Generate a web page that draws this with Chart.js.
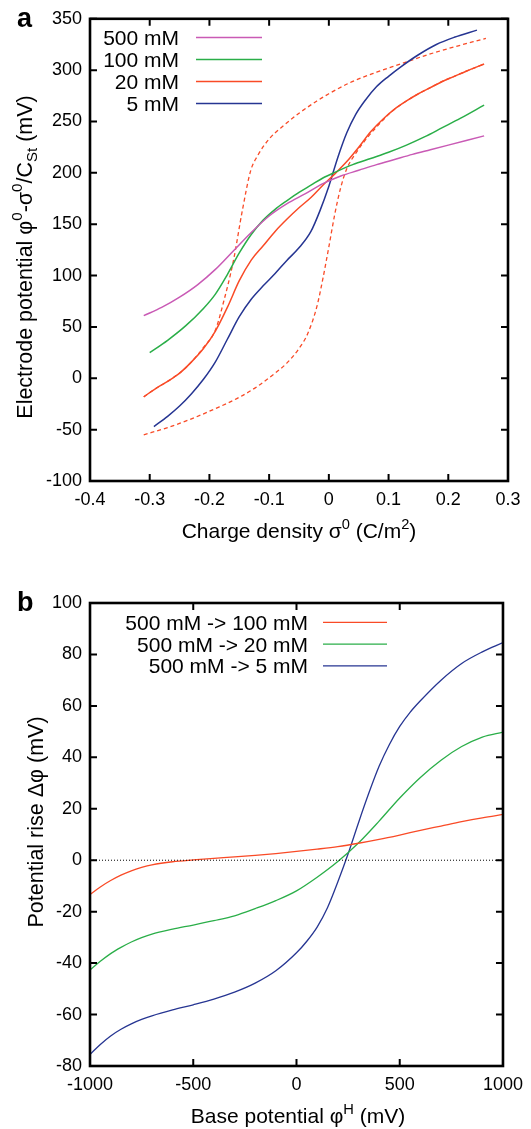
<!DOCTYPE html>
<html>
<head>
<meta charset="utf-8">
<script src="https://cdn.jsdelivr.net/npm/chart.js@4.4.1/dist/chart.umd.min.js"></script>
<style>
    html, body { margin: 0; padding: 0; background: #fff; }
    canvas { position: absolute; left: 0; }
    #chartA { top: 0; }
    #chartB { top: 565px; }
</style>
</head>
<body>
<canvas id="chartA" width="531" height="565"></canvas>
<canvas id="chartB" width="531" height="564"></canvas>
<script>
// Panel a: charge density (C/m2) -> electrode potential (mV)
const sigma500 = [-0.31, -0.28, -0.25, -0.22, -0.19, -0.16, -0.13, -0.10, -0.07, -0.04, -0.01, 0.02, 0.05, 0.08, 0.11, 0.14, 0.17, 0.20, 0.23, 0.26];
const phi500 = [61, 69, 79, 91, 106, 124, 142, 158, 170, 179.5, 189.5, 197, 202.5, 208, 213, 218, 222.5, 227, 231.5, 236];

const sigma100 = [-0.30, -0.27, -0.24, -0.21, -0.19, -0.17, -0.15, -0.13, -0.11, -0.09, -0.07, -0.05, -0.03, -0.01, 0.01, 0.04, 0.07, 0.10, 0.13, 0.16, 0.19, 0.22, 0.26];
const phi100 = [25, 37, 51, 68, 82, 101, 122, 140, 154, 164.5, 173, 181, 188, 195, 200.5, 208, 214, 220, 227, 235, 244, 253, 266];

const sigma20 = [-0.31, -0.29, -0.27, -0.25, -0.23, -0.21, -0.19, -0.17, -0.15, -0.13, -0.11, -0.09, -0.07, -0.05, -0.03, -0.01, 0.01, 0.03, 0.05, 0.07, 0.09, 0.11, 0.13, 0.15, 0.17, 0.19, 0.21, 0.23, 0.26];
const phi20 = [-18, -10, -3, 5, 16, 29, 46, 69, 95, 115, 129, 143, 155, 166, 176, 188, 199, 211, 225, 240, 252, 262, 270, 277, 283, 289, 294, 299, 306];

const sigma5 = [-0.293, -0.27, -0.25, -0.23, -0.21, -0.19, -0.17, -0.15, -0.13, -0.11, -0.09, -0.07, -0.05, -0.03, -0.015, 0.0, 0.015, 0.03, 0.045, 0.06, 0.08, 0.10, 0.12, 0.15, 0.18, 0.21, 0.248];
const phi5 = [-47, -37, -27, -15, -1, 16, 38, 60, 77, 90, 102, 115, 127, 143, 163, 187, 215, 239, 257, 270, 284, 294, 303, 315, 325, 332, 339];

// dashed 20 mM branches
const sigmaUp = [-0.31, -0.29, -0.27, -0.25, -0.23, -0.21, -0.19, -0.176, -0.16, -0.145, -0.131, -0.12, -0.10, -0.08, -0.05, -0.02, 0.0, 0.036, 0.08, 0.12, 0.16, 0.20, 0.263];
const phiUp = [-18, -10, -3, 5, 16, 30, 47, 75, 114, 163, 202, 216, 233, 244, 258, 270, 277, 288, 298, 306, 314, 321, 331];
const sigmaDown = [-0.31, -0.27, -0.23, -0.19, -0.15, -0.12, -0.09, -0.07, -0.05, -0.035, -0.02, -0.01, 0.0, 0.01, 0.02, 0.03, 0.045, 0.064, 0.09, 0.11, 0.13, 0.15, 0.17, 0.19, 0.21, 0.23, 0.26];
const phiDown = [-55, -48, -39.5, -29.5, -18.5, -8, 5, 15, 29, 44, 70, 97, 128, 160, 186, 204, 219, 234, 251, 262, 270, 277, 283, 289, 294, 299, 306];

const labelsA = ['500 mM', '100 mM', '20 mM', '5 mM'];
const ticksAx = [-0.4, 0.3, 0.1];   // min, max, step
const ticksAy = [-100, 350, 50];

// Panel b: base potential (mV) -> potential rise (mV)
const baseH = [-1000, -950, -900, -850, -800, -750, -700, -600, -500, -400, -300, -200, -100, 0, 100, 200, 300, 400, 500, 600, 700, 800, 900, 1000];
const rise100 = [-13.3, -10.4, -7.9, -5.8, -4.1, -2.8, -1.8, -0.6, 0.1, 0.7, 1.3, 1.9, 2.6, 3.4, 4.3, 5.3, 6.6, 8.1, 9.8, 11.6, 13.3, 15, 16.5, 17.8];
const rise20 = [-42.7, -39.3, -36.3, -33.9, -31.8, -30.1, -28.7, -26.8, -25.2, -23.5, -21.6, -18.8, -15.7, -11.9, -6.6, -0.5, 6.7, 15.2, 24.2, 32.2, 38.9, 44.2, 47.9, 49.8];
const baseH5 = [-1000, -950, -900, -850, -800, -750, -700, -600, -500, -400, -300, -200, -100, 0, 50, 100, 150, 200, 250, 300, 350, 400, 450, 500, 550, 600, 700, 800, 900, 1000];
const rise5 = [-75.5, -71.6, -68.3, -65.7, -63.6, -61.9, -60.5, -58.2, -56.2, -54, -51.3, -47.8, -43, -36, -31.5, -26, -18.5, -8.5, 2.5, 14.5, 26, 36.5, 45, 52, 57.5, 62, 70, 76.5, 81, 84.6];
const zeroX = [-1000, 1000];
const zeroY = [0, 0];

const labelsB = ['500 mM -> 100 mM', '500 mM -> 20 mM', '500 mM -> 5 mM'];
const ticksBx = [-1000, 1000, 500];
const ticksBy = [-80, 100, 20];

const C_MAG = '#c95ab5';
const C_GRN = '#2aae48';
const C_RED = '#f94a26';
const C_BLU = '#263592';
const FONT = '"Liberation Sans", Arial, Helvetica, sans-serif';

const pts = (xs, ys) => xs.map((x, i) => ({ x: x, y: ys[i] }));

// rich text: parts = [[text, mode]], mode '' | 'sup' | 'sub'
function richWidth(ctx, parts, size) {
    let w = 0;
    parts.forEach(([t, m]) => {
        ctx.font = `${m ? size * 0.7 : size}px ${FONT}`;
        w += ctx.measureText(t).width;
    });
    return w;
}
function drawRich(ctx, parts, size, x, y) {
    parts.forEach(([t, m]) => {
        const s = m ? size * 0.7 : size;
        const dy = m === 'sup' ? -size * 0.45 : (m === 'sub' ? size * 0.25 : 0);
        ctx.font = `${s}px ${FONT}`;
        ctx.fillText(t, x, y + dy);
        x += ctx.measureText(t).width;
    });
}

const framePlugin = {
    id: 'frame',
    afterDraw(chart, args, o) {
        const ctx = chart.ctx, a = chart.chartArea;
        const xs = chart.scales.x, ys = chart.scales.y;
        ctx.save();
        ctx.strokeStyle = '#000';
        ctx.lineWidth = 2;
        ctx.beginPath();
        xs.ticks.forEach(t => {
            const p = xs.getPixelForValue(t.value);
            ctx.moveTo(p, a.bottom); ctx.lineTo(p, a.bottom - 7);
            ctx.moveTo(p, a.top); ctx.lineTo(p, a.top + 7);
        });
        ys.ticks.forEach(t => {
            const p = ys.getPixelForValue(t.value);
            ctx.moveTo(a.left, p); ctx.lineTo(a.left + 7, p);
            ctx.moveTo(a.right, p); ctx.lineTo(a.right - 7, p);
        });
        ctx.stroke();
        ctx.lineWidth = 2.6;
        ctx.strokeRect(a.left, a.top, a.right - a.left, a.bottom - a.top);

        // legend: text right-aligned, sample line on the right
        ctx.fillStyle = '#000';
        ctx.textAlign = 'right';
        ctx.textBaseline = 'alphabetic';
        ctx.font = `21px ${FONT}`;
        let row = 0;
        chart.data.datasets.forEach(ds => {
            if (!ds.label) return;
            const y = o.legend.y + row * o.legend.dy;
            ctx.fillText(ds.label, o.legend.textRight, y + 7.5);
            ctx.strokeStyle = ds.borderColor;
            ctx.lineWidth = ds.borderWidth;
            ctx.beginPath();
            ctx.moveTo(o.legend.x0, y); ctx.lineTo(o.legend.x1, y);
            ctx.stroke();
            row++;
        });

        // axis titles
        ctx.textAlign = 'left';
        const tx = o.xTitle;
        drawRich(ctx, tx.parts, 21, tx.cx - richWidth(ctx, tx.parts, 21) / 2, tx.base);
        const ty = o.yTitle;
        ctx.save();
        ctx.translate(ty.base, ty.cy);
        ctx.rotate(-Math.PI / 2);
        drawRich(ctx, ty.parts, 21.5, -richWidth(ctx, ty.parts, 21.5) / 2, 0);
        ctx.restore();

        // panel letter
        ctx.font = `bold 27px ${FONT}`;
        ctx.fillText(o.letter.t, o.letter.x, o.letter.y);
        ctx.restore();
    }
};

function axisOpts(range, w, h, fmt) {
    return [
        {
            type: 'linear', min: range.x[0], max: range.x[1],
            grid: { display: false, drawTicks: false },
            border: { display: false },
            ticks: { stepSize: range.x[2], autoSkip: false, maxRotation: 0, padding: 8, color: '#000',
                font: { size: 18, family: FONT }, callback: fmt },
            afterFit: s => { s.height = h; }
        },
        {
            type: 'linear', min: range.y[0], max: range.y[1],
            grid: { display: false, drawTicks: false },
            border: { display: false },
            ticks: { stepSize: range.y[2], autoSkip: false, padding: 8, color: '#000',
                font: { size: 18, family: FONT } },
            afterFit: s => { s.width = w; }
        }
    ];
}

function line(label, xs, ys, color, width, dash) {
    return {
        label: label, data: pts(xs, ys),
        borderColor: color, borderWidth: width, borderDash: dash || [],
        pointRadius: 0, fill: false, cubicInterpolationMode: 'monotone'
    };
}

Chart.defaults.font.family = FONT;
Chart.defaults.color = '#000';

const [axA, ayA] = axisOpts({ x: ticksAx, y: ticksAy }, 90, 84,
    v => Math.abs(v) < 1e-9 ? '0' : String(+v.toFixed(1)));
new Chart(document.getElementById('chartA'), {
    type: 'line',
    data: {
        datasets: [
            line(labelsA[0], sigma500, phi500, C_MAG, 1.5),
            line(labelsA[1], sigma100, phi100, C_GRN, 1.5),
            line(labelsA[2], sigma20, phi20, C_RED, 1.5),
            line(labelsA[3], sigma5, phi5, C_BLU, 1.5),
            line('', sigmaUp, phiUp, C_RED, 1.3, [4, 3]),
            line('', sigmaDown, phiDown, C_RED, 1.3, [4, 3])
        ]
    },
    options: {
        responsive: false, animation: false, devicePixelRatio: 1,
        layout: { padding: { left: 0, top: 17, right: 23, bottom: 0 } },
        plugins: {
            legend: { display: false }, tooltip: { enabled: false },
            frame: {
                legend: { y: 37.5, dy: 22, textRight: 179, x0: 196, x1: 262 },
                xTitle: { cx: 299, base: 538, parts: [['Charge density σ', ''], ['0', 'sup'], [' (C/m', ''], ['2', 'sup'], [')', '']] },
                yTitle: { cy: 257, base: 32, parts: [['Electrode potential φ', ''], ['0', 'sup'], ['-σ', ''], ['0', 'sup'], ['/C', ''], ['St', 'sub'], [' (mV)', '']] },
                letter: { t: 'a', x: 17, y: 27 }
            }
        },
        scales: { x: axA, y: ayA }
    },
    plugins: [framePlugin]
});

const [axB, ayB] = axisOpts({ x: ticksBx, y: ticksBy }, 90, 63, v => String(v));
new Chart(document.getElementById('chartB'), {
    type: 'line',
    data: {
        datasets: [
            line('', zeroX, zeroY, '#000', 1, [1, 2]),
            line(labelsB[0], baseH, rise100, C_RED, 1.3),
            line(labelsB[1], baseH, rise20, C_GRN, 1.3),
            line(labelsB[2], baseH5, rise5, C_BLU, 1.3)
        ]
    },
    options: {
        responsive: false, animation: false, devicePixelRatio: 1,
        layout: { padding: { left: 0, top: 38, right: 23, bottom: 0 } },
        plugins: {
            legend: { display: false }, tooltip: { enabled: false },
            frame: {
                legend: { y: 57.3, dy: 21.8, textRight: 308, x0: 323, x1: 387 },
                xTitle: { cx: 298, base: 558, parts: [['Base potential φ', ''], ['H', 'sup'], [' (mV)', '']] },
                yTitle: { cy: 257, base: 43, parts: [['Potential rise Δφ (mV)', '']] },
                letter: { t: 'b', x: 17, y: 46 }
            }
        },
        scales: { x: axB, y: ayB }
    },
    plugins: [framePlugin]
});
</script>
</body>
</html>
